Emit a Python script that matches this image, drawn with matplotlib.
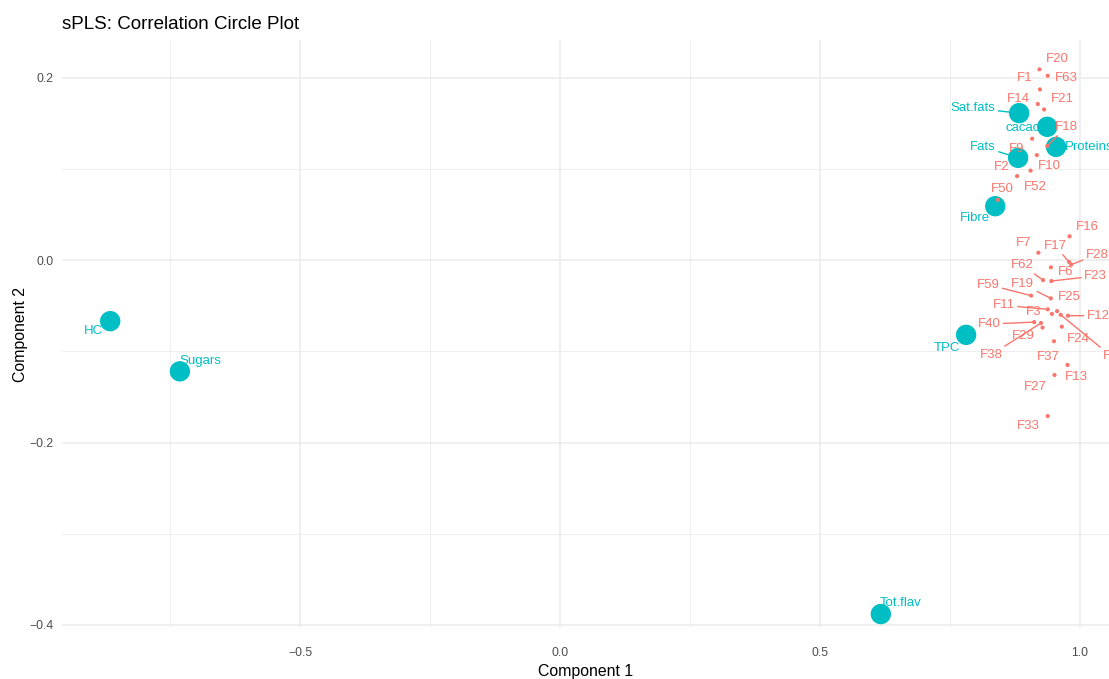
import matplotlib
matplotlib.use("Agg")
import matplotlib.pyplot as plt

plt.rcParams["font.family"] = ["Liberation Sans", "DejaVu Sans"]

TEAL = "#00BFC4"
SALMON = "#F8766D"

# Block X variables (large markers)
x_vars = ["Sat.fats", "cacao", "Proteins", "Fats", "Fibre", "HC", "Sugars", "TPC", "Tot.flav"]
x_comp1 = [0.883, 0.937, 0.954, 0.881, 0.837, -0.865, -0.731, 0.781, 0.617]
x_comp2 = [0.161, 0.146, 0.124, 0.112, 0.059, -0.067, -0.122, -0.082, -0.388]

# Block Y variables (small markers)
y_vars = ["F20", "F63", "F1", "F14", "F21", "F18", "F9", "F10", "F2", "F52", "F50",
          "F16", "F7", "F17", "F28", "F6", "F62", "F23", "F59", "F19", "F25",
          "F11", "F3", "F8", "F12", "F40", "F38", "F29", "F24", "F37", "F13",
          "F27", "F33"]
y_comp1 = [0.922, 0.938, 0.923, 0.919, 0.931, 0.937, 0.908, 0.917, 0.879, 0.905, 0.842,
           0.980, 0.920, 0.979, 0.983, 0.944, 0.929, 0.945, 0.906, 0.944, 0.956,
           0.938, 0.946, 0.963, 0.977, 0.912, 0.925, 0.928, 0.965, 0.950, 0.976,
           0.951, 0.938]
y_comp2 = [0.209, 0.202, 0.187, 0.171, 0.165, 0.125, 0.133, 0.115, 0.092, 0.098, 0.066,
           0.026, 0.008, -0.002, -0.005, -0.008, -0.022, -0.023, -0.039, -0.042, -0.056,
           -0.054, -0.059, -0.060, -0.061, -0.068, -0.069, -0.074, -0.073, -0.089, -0.115,
           -0.126, -0.171]

# Label placement (pixel offsets from each marker) and whether a leader segment is drawn
x_label_offsets = {
    "Sat.fats": (-46, 5, True), "cacao": (-24, -1, False), "Proteins": (33, 0, False),
    "Fats": (-35, 11, True), "Fibre": (-20, -12, False), "HC": (-17, -10, False),
    "Sugars": (20, 10, False), "TPC": (-19, -13, False), "Tot.flav": (20, 11, False),
}
y_label_offsets = {
    "F20": (18, 10, False), "F63": (19, -2, False), "F1": (-15, 11, False),
    "F14": (-19, 5, False), "F21": (18, 10, False), "F18": (19, 19, True),
    "F9": (-16, -10, False), "F10": (13, -11, False), "F2": (-15, 9, False),
    "F52": (5, -16, False), "F50": (4, 11, False), "F16": (18, 9, False),
    "F7": (-15, 10, False), "F17": (-14, 16, True), "F28": (26, 10, True),
    "F6": (15, -5, False), "F62": (-21, 15, True), "F23": (44, 5, True),
    "F59": (-43, 11, True), "F19": (-28, 14, True), "F25": (12, 14, False),
    "F11": (-44, 4, True), "F3": (-18, 2, False), "F8": (50, -41, True),
    "F12": (30, 0, True), "F40": (-45, -2, True), "F38": (-50, -32, True),
    "F29": (-19, -8, False), "F24": (17, -12, False), "F37": (-6, -16, False),
    "F13": (9, -12, False), "F27": (-19, -12, False), "F33": (-19, -10, False),
}

fig = plt.figure(figsize=(11.09, 6.79), dpi=100)
ax = fig.add_axes([0.0559, 0.0751, 0.9441, 0.8659])

ax.set_xlim(-0.9577, 1.0558)
ax.set_ylim(-0.4033, 0.2411)

# theme_minimal style grid
ax.set_xticks([-0.5, 0.0, 0.5, 1.0])
ax.set_yticks([-0.4, -0.2, 0.0, 0.2])
ax.set_xticks([-0.75, -0.25, 0.25, 0.75], minor=True)
ax.set_yticks([-0.3, -0.1, 0.1], minor=True)
ax.grid(True, which="major", color="#ebebeb", lw=1.1)
ax.grid(True, which="minor", color="#ebebeb", lw=0.6)
ax.set_axisbelow(True)
for s in ax.spines.values():
    s.set_visible(False)
ax.tick_params(which="both", length=0)
ax.tick_params(axis="both", labelsize=8.8, labelcolor="#4d4d4d")
ax.tick_params(axis="x", pad=14)
ax.tick_params(axis="y", pad=6)
ax.set_xticklabels(["\u22120.5", "0.0", "0.5", "1.0"])
ax.set_yticklabels(["\u22120.4", "\u22120.2", "0.0", "0.2"])

ax.set_xlabel("Component 1", fontsize=11.4, labelpad=3)
ax.set_ylabel("Component 2", fontsize=11.4, labelpad=1)
ax.set_title("sPLS: Correlation Circle Plot", fontsize=13.5, loc="left", pad=8)


def add_labels(names, xs, ys, offsets, color, z, shrink_b):
    for n, xv, yv in zip(names, xs, ys):
        dx, dy, seg = offsets[n]
        props = None
        if seg:
            props = dict(arrowstyle="-", color=color, lw=1.0, shrinkA=0, shrinkB=shrink_b)
        ax.annotate(n, (xv, yv), xytext=(dx, dy), textcoords="offset pixels",
                    ha="center", va="center", fontsize=9.5, color=color,
                    arrowprops=props, zorder=z, annotation_clip=False, clip_on=False)


# X block: labels, then markers on top
add_labels(x_vars, x_comp1, x_comp2, x_label_offsets, TEAL, 3, 7)
ax.scatter(x_comp1, x_comp2, s=215, color=TEAL, edgecolors="none", zorder=4, clip_on=False)

# Y block: markers and labels
ax.scatter(y_comp1, y_comp2, s=9, color=SALMON, edgecolors="none", zorder=5, clip_on=False)
add_labels(y_vars, y_comp1, y_comp2, y_label_offsets, SALMON, 6, 1)

fig.savefig("out.png", dpi=100)
